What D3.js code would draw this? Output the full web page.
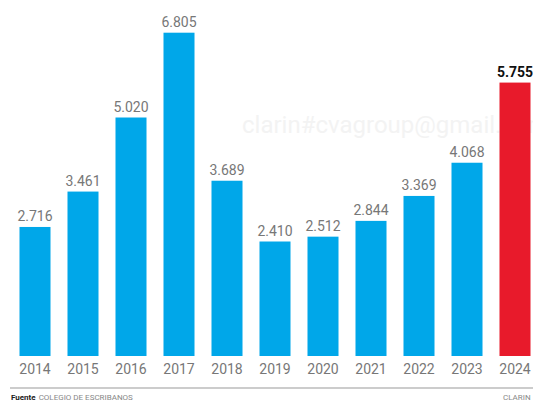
<!DOCTYPE html>
<html>
<head>
<meta charset="utf-8">
<script src="https://cdn.jsdelivr.net/npm/d3@7"></script>
<style>
  html, body { margin: 0; padding: 0; background: #fff; }
  #chart-container { width: 533px; height: 401px; overflow: hidden; }
  text { font-family: Roboto, "Noto Sans", sans-serif; }
</style>
</head>
<body>
<div id="chart-container"></div>
<script>
// --- Data ---
const years = ["2014", "2015", "2016", "2017", "2018", "2019", "2020", "2021", "2022", "2023", "2024"];
const values = [2716, 3461, 5020, 6805, 3689, 2410, 2512, 2844, 3369, 4068, 5755];
const valueLabels = ["2.716", "3.461", "5.020", "6.805", "3.689", "2.410", "2.512", "2.844", "3.369", "4.068", "5.755"];
const highlightYear = "2024";

// --- Configuration ---
const width = 533;
const height = 401;
const baseY = 356;

const data = years.map((y, i) => ({ year: y, value: values[i], label: valueLabels[i] }));

const svg = d3.select("#chart-container")
    .append("svg")
    .attr("width", width)
    .attr("height", height);

// --- Scales ---
const xScale = d3.scaleBand()
    .domain(years)
    .range([11, 539])
    .paddingInner(0.354)
    .paddingOuter(0.177);

const yScale = d3.scaleLinear()
    .domain([0, 6805])
    .range([baseY, 32.7]);

// watermark (very faint)
svg.append("text")
    .attr("x", 242).attr("y", 133)
    .attr("fill", "#f3f3f3")
    .attr("font-size", "24px")
    .text("clarin#cvagroup@gmail.com");

// --- Bars ---
svg.append("g")
    .selectAll("rect")
    .data(data)
    .enter()
    .append("rect")
    .attr("x", d => xScale(d.year))
    .attr("y", d => yScale(d.value))
    .attr("width", xScale.bandwidth())
    .attr("height", d => baseY - yScale(d.value))
    .attr("fill", d => d.year === highlightYear ? "#e81a2b" : "#00a7e9");

// --- Value labels ---
svg.append("g")
    .selectAll("text")
    .data(data)
    .enter()
    .append("text")
    .attr("x", d => xScale(d.year) + xScale.bandwidth() / 2)
    .attr("y", d => yScale(d.value) - 6)
    .attr("text-anchor", "middle")
    .attr("font-size", "14px")
    .attr("font-weight", d => d.year === highlightYear ? "bold" : "normal")
    .attr("fill", d => d.year === highlightYear ? "#111" : "#777")
    .text(d => d.label);

// --- X axis ---
const xAxis = d3.axisBottom(xScale).tickSize(0).tickPadding(0);
const axisGroup = svg.append("g")
    .attr("transform", `translate(0, ${baseY})`)
    .call(xAxis);
axisGroup.select(".domain").remove();
axisGroup.selectAll("text")
    .attr("font-family", "Roboto, sans-serif")
    .attr("font-size", "14px")
    .attr("fill", "#777")
    .attr("dy", "1.25em");

// --- Footer ---
svg.append("line")
    .attr("x1", 10).attr("x2", width)
    .attr("y1", 388).attr("y2", 388)
    .attr("stroke", "#999").attr("stroke-width", 1);

const footer = svg.append("text")
    .attr("x", 11).attr("y", 400)
    .attr("font-size", "8px");
footer.append("tspan").attr("font-weight", "bold").attr("fill", "#222").text("Fuente");
footer.append("tspan").attr("fill", "#888").attr("dx", 3).text("COLEGIO DE ESCRIBANOS");

svg.append("text")
    .attr("x", 503).attr("y", 400)
    .attr("font-size", "8px")
    .attr("fill", "#888")
    .text("CLARIN");
</script>
</body>
</html>
